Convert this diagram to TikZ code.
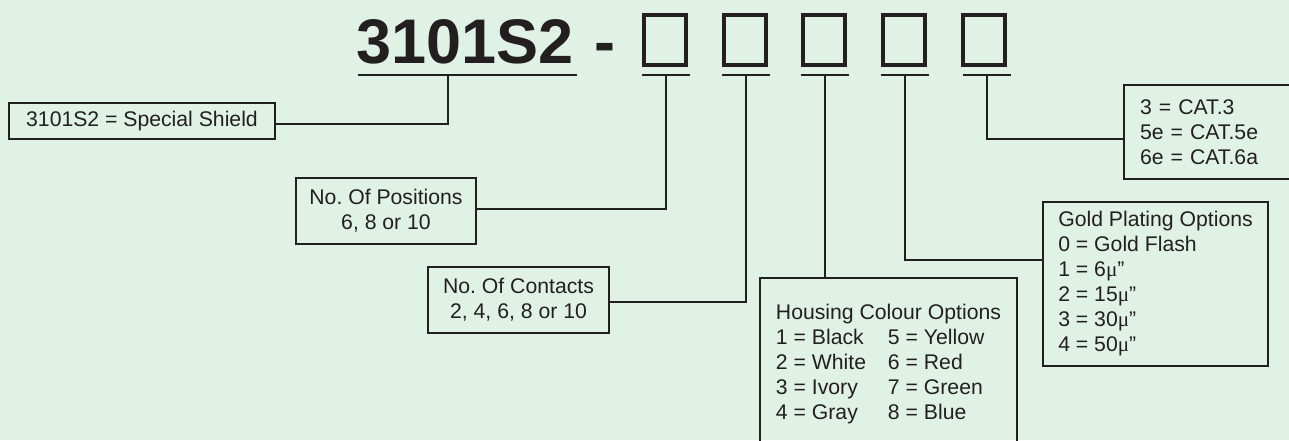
\documentclass[tikz,border=0pt]{standalone}
\usepackage{fontspec}
\setmainfont{Liberation Sans}
\newfontfamily\greekmu{Liberation Serif}
\frenchspacing
\definecolor{ink}{HTML}{231F20}
\definecolor{mint}{HTML}{E0F1E6}
\newcommand{\muinch}[1]{#1{\greekmu μ}”}
\newcommand{\hrow}[2]{\makebox[112pt][l]{#1}#2}
\tikzset{
  box/.style={draw=ink, line width=2pt, inner sep=0pt, text=ink, font=\fontsize{21.2}{25}\selectfont},
  optbox/.style={box, align=left, anchor=north west},
  title/.style={inner sep=0pt, text=ink, anchor=base west, font=\fontsize{63}{70}\selectfont\bfseries},
  slot/.style={draw=ink, line width=4pt, minimum width=42pt, minimum height=50pt, inner sep=0pt},
  uline/.style={draw=ink, line width=2pt},
  conn/.style={draw=ink, line width=2pt}}

\begin{document}
\begin{tikzpicture}[x=1pt, y=-1pt]
  \clip (0,0) rectangle (1289,440);
  \fill[mint] (0,0) rectangle (1289,440);
  \node[title] (code) at (356,63) {3101S2};
  \node[title] (dash) at (594,63) {-};
  \foreach \x [count=\i] in {665,745,824,904,984}
    \node[slot] (b\i) at (\x,40) {};
  \draw[uline] (code.base west) ++(2,12) -- ++(219,0);
  \coordinate (u0) at (448,75);
  \foreach \i/\x in {1/666,2/746,3/825,4/905,5/987} {
    \coordinate (u\i) at (\x,75);
    \draw[uline] (u\i) ++(-24,0) -- ++(48,0);
  }
  \node[box, minimum width=266pt, minimum height=36pt] (shield) at (142,121) {3101S2 = Special Shield};
  \node[box, align=center, minimum width=180pt, minimum height=66pt] (pos) at (386,211) {No. Of Positions\\6, 8 or 10};
  \node[box, align=center, minimum width=181pt, minimum height=66pt] (cont) at (518.5,300) {No. Of Contacts\\2, 4, 6, 8 or 10};
  \node[optbox, minimum width=257pt, minimum height=173pt] (house) at (759,277) {Housing Colour Options\\
    \hrow{1 = Black}{5 = Yellow}\\\hrow{2 = White}{6 = Red}\\
    \hrow{3 = Ivory}{7 = Green}\\\hrow{4 = Gray}{8 = Blue}};
  \node[optbox, minimum width=225pt, minimum height=164pt] (gold) at (1042,201) {Gold Plating Options\\0 = Gold Flash\\
    1 = \muinch{6}\\2 = \muinch{15}\\3 = \muinch{30}\\4 = \muinch{50}};
  \node[optbox, text width=168pt, inner xsep=16pt, minimum height=94pt] (cat) at (1123,84) {3 = CAT.3\\5e = CAT.5e\\6e = CAT.6a};
  \draw[conn] ([yshift=-3pt]shield.east) -| (u0);
  \draw[conn] ([yshift=2pt]pos.east) -| (u1);
  \draw[conn] ([yshift=-2pt]cont.east) -| (u2);
  \draw[conn] (u3) -- (u3 |- house.north);
  \draw[conn] (u4) |- ([yshift=24pt]gold.west);
  \draw[conn] (u5) |- ([yshift=-7pt]cat.west);
\end{tikzpicture}
\end{document}
